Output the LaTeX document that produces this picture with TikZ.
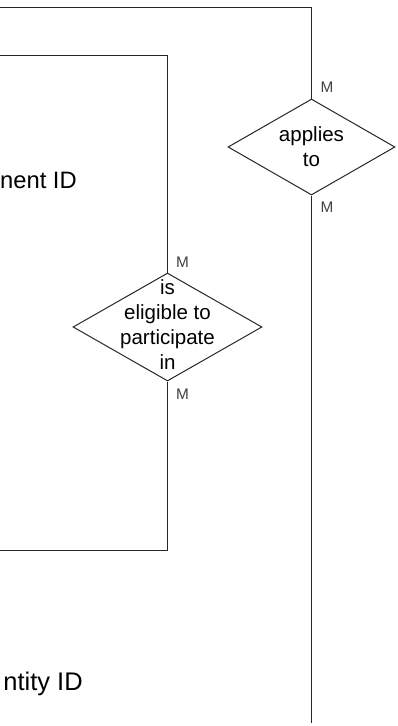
\documentclass[tikz,border=0pt]{standalone}
\usepackage{fontspec}
\setmainfont{Liberation Sans}
\usepackage{xcolor}
\usepackage{tikz}
\usetikzlibrary{shapes,arrows,positioning}

\tikzset{
    relation/.style={
        draw=black!85,
        line width=0.75pt,
        shape=diamond,
        inner sep=0pt
    },
    reltext/.style={
        align=center,
        inner sep=0pt,
        font=\fontsize{15.4}{18.75}\selectfont
    },
    enttext/.style={
        inner sep=0pt,
        font=\fontsize{19.1}{22}\selectfont
    },
    card/.style={
        text=black!75,
        inner sep=0pt,
        font=\fontsize{11.5}{11.5}\selectfont
    },
    link/.style={
        draw=black!85,
        line width=0.75pt
    }
}

\begin{document}
\begin{tikzpicture}[x=0.75pt,y=-0.75pt]
                \useasboundingbox (0,0) rectangle (397,726);
                \clip (0,0) rectangle (397,726);

                % relationships
                \node[
                    relation,
                    minimum width=125.25pt,
                    minimum height=72pt
                    ] (applies) at (311.5,147) {};
                \node[reltext] (appliestxt) at (applies) {applies\\to};

                \node[
                    relation,
                    minimum width=141.75pt,
                    minimum height=81pt
                    ] (elig) at (167.5,327) {};
                \node[reltext, yshift=1.5pt] (eligtxt) at (elig)
                    {is\\eligible to\\participate\\in};

                % entity keys (at the left edge)
                \node[
                    enttext,
                    anchor=base east,
                    font=\fontsize{17.8}{21}\selectfont
                    ] (mentid) at (77,188) {nent ID};
                \node[enttext, anchor=base east] (ntityid) at (83,690) {ntity ID};

                % loose ends beyond the picture
                \coordinate (outtop) at (-10,7);
                \coordinate (outbot) at (311.5,723);
                \coordinate (intop) at (-10,55);
                \coordinate (inbot) at (-10,550);

                % connectors
                \draw[link] (outtop) -| (applies.north);
                \draw[link] (applies.south) -- (outbot);
                \draw[link] (intop) -| (elig.north);
                \draw[link] (elig.south) |- (inbot);

                % cardinalities
                \node[card] (mapp1) at (327,87.5) {M};
                \node[card] (mapp2) at (327,207.5) {M};
                \node[card] (melig1) at (182.5,262) {M};
                \node[card] (melig2) at (182.5,394) {M};

            \end{tikzpicture}
\end{document}
